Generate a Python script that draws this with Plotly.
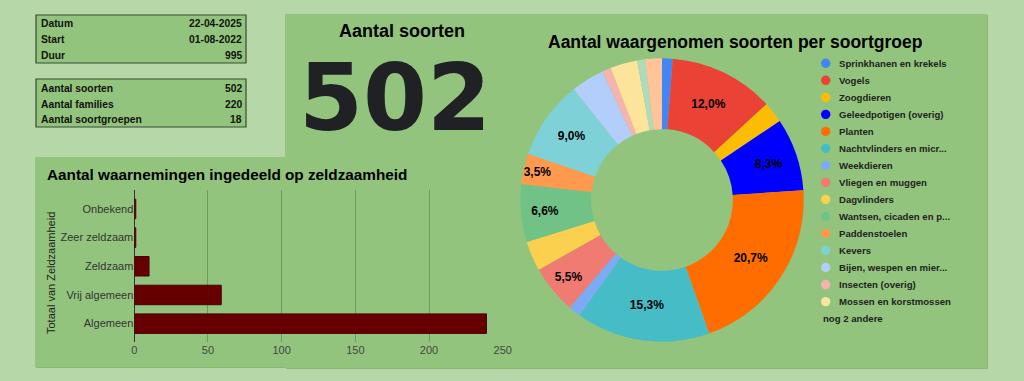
import plotly.graph_objects as go

W, H = 1024, 381

# ---------------- data ----------------
info1_labels = ["Datum", "Start", "Duur"]
info1_values = ["22-04-2025", "01-08-2022", "995"]
info2_labels = ["Aantal soorten", "Aantal families", "Aantal soortgroepen"]
info2_values = ["502", "220", "18"]

kpi_title = "Aantal soorten"
kpi_value = "502"

rarity_cats = ["Algemeen", "Vrij algemeen", "Zeldzaam", "Zeer zeldzaam", "Onbekend"]
rarity_vals = [239, 59, 10, 1, 1]

groups = ["Sprinkhanen en krekels", "Vogels", "Zoogdieren", "Geleedpotigen (overig)",
          "Planten", "Nachtvlinders en micr...", "Weekdieren", "Vliegen en muggen",
          "Dagvlinders", "Wantsen, cicaden en p...", "Paddenstoelen", "Kevers",
          "Bijen, wespen en mier...", "Insecten (overig)", "Mossen en korstmossen",
          "andere 1", "andere 2"]
group_pct = [1.2, 12.0, 2.4, 8.3, 20.7, 15.3, 1.4, 5.5, 3.4, 6.6, 3.5, 9.0,
             3.8, 1.0, 3.1, 0.9, 1.9]
group_colors = ["#4285f4", "#ea4335", "#fbbc04", "#0000ff", "#ff6d01", "#46bdc6",
                "#7baaf7", "#f07b72", "#fcd04f", "#71c287", "#ff994d", "#7ed1d7",
                "#b3cefb", "#f7b4ae", "#fde49b", "#aedcba", "#ffc599"]
labelled = {"Vogels", "Geleedpotigen (overig)", "Planten", "Nachtvlinders en micr...",
            "Vliegen en muggen", "Wantsen, cicaden en p...", "Paddenstoelen", "Kevers"}
legend_shown = 15
legend_more = "nog 2 andere"

# ---------------- helpers ----------------
def X(px):
    return px / W

def Y(py):
    return 1 - py / H

BG = "#b6d7a8"
PANEL = "#93c47d"
FONT = "Liberation Sans, Arial, sans-serif"

shapes = []
annotations = []

def rect(x0, y0, x1, y1, fill, line=None, lw=0):
    shapes.append(dict(type="rect", xref="paper", yref="paper", x0=X(x0), x1=X(x1),
                       y0=Y(y1), y1=Y(y0), fillcolor=fill,
                       line=dict(color=line or fill, width=lw), layer="below"))

def text(x, y, s, size, xanchor="left", bold=True, color="#111", font=FONT, angle=0):
    annotations.append(dict(xref="paper", yref="paper", x=X(x), y=Y(y), text=s,
                            showarrow=False, xanchor=xanchor, yanchor="middle",
                            textangle=angle,
                            font=dict(size=size, color=color, family=font,
                                      weight="bold" if bold else "normal")))

# panels (with faint shadow)
rect(286, 15, 988, 369, "#88b873")
rect(36, 158, 520, 368, "#88b873")
rect(285, 14, 987, 368, PANEL)
rect(35, 157, 520, 367, PANEL)

# info tables
for (y0, y1, labs, vals, rows) in [(15, 63, info1_labels, info1_values, [23.5, 39.5, 55]),
                                    (79, 127, info2_labels, info2_values, [88.3, 104, 119.5])]:
    rect(36, y0, 246, y1, PANEL, "#3a4a33", 1.2)
    for lab, val, ry in zip(labs, vals, rows):
        text(39, ry, lab, 10.3)
        text(244, ry, val, 10.3, xanchor="right")

# KPI
text(402, 31, kpi_title, 18, xanchor="center", color="#000")
text(395, 98, kpi_value, 92, xanchor="center", color="#202124",
     font="DejaVu Sans, sans-serif")

# titles
text(45, 175, "Aantal waarnemingen ingedeeld op zeldzaamheid", 15.3, color="#000")
text(735, 42, "Aantal waargenomen soorten per soortgroep", 17.5, xanchor="center", color="#000")
text(51, 273, "Totaal van Zeldzaamheid", 11, xanchor="center", bold=False,
     color="#222", angle=-90)

# custom legend
for i in range(legend_shown):
    cy = 63.3 + 17.02 * i
    r = 4.7
    shapes.append(dict(type="circle", xref="paper", yref="paper",
                       x0=X(825.7 - r), x1=X(825.7 + r), y0=Y(cy + r), y1=Y(cy - r),
                       fillcolor=group_colors[i], line=dict(width=0)))
    text(836.7, cy, groups[i], 9.6, color="#222")
text(821, 318.5, legend_more, 9.6, color="#222")

fig = go.Figure()

fig.add_trace(go.Bar(
    x=rarity_vals, y=rarity_cats, orientation="h",
    marker=dict(color="#660000", line=dict(color="#4a0000", width=1)),
    width=0.68, xaxis="x", yaxis="y", showlegend=False, hoverinfo="skip"))

fig.add_trace(go.Pie(
    labels=groups, values=group_pct, sort=False, direction="clockwise", rotation=0,
    hole=0.5, marker=dict(colors=group_colors, line=dict(width=0)),
    texttemplate=["%{percent:.1%}" if g in labelled else "" for g in groups],
    textposition="inside", insidetextorientation="horizontal",
    textfont=dict(size=12, color="#000", family=FONT, weight="bold"),
    domain=dict(x=[X(520.3), X(803.7)], y=[Y(341.7), Y(58.3)]),
    automargin=False, showlegend=False, hoverinfo="skip"))

fig.update_layout(
    width=W, height=H, margin=dict(l=0, r=0, t=0, b=0, pad=0, autoexpand=False),
    autosize=False,
    paper_bgcolor=BG, plot_bgcolor="rgba(0,0,0,0)",
    separators=",.",
    uniformtext=dict(minsize=12, mode="show"),
    shapes=shapes, annotations=annotations,
    xaxis=dict(domain=[X(134.3), X(502.7)], range=[0, 250], tickvals=[0, 50, 100, 150, 200, 250],
               showgrid=True, gridcolor="#6f9a5e", gridwidth=1, zeroline=True,
               zerolinecolor="#333", zerolinewidth=1, showline=False, automargin=False,
               tickfont=dict(size=11, color="#444", family=FONT), ticks="", anchor="y"),
    yaxis=dict(domain=[Y(341.7), Y(190)], range=[-0.63, 4.66], categoryorder="array",
               categoryarray=rarity_cats, showgrid=False, zeroline=False, automargin=False,
               tickfont=dict(size=11, color="#333", family=FONT), ticks="",
               anchor="x"),
)

fig.write_html("out.html",
               config={"responsive": False, "displayModeBar": False},
               post_script="document.body.style.margin='0';document.body.style.padding='0';"
                           "document.body.style.overflow='hidden';")
